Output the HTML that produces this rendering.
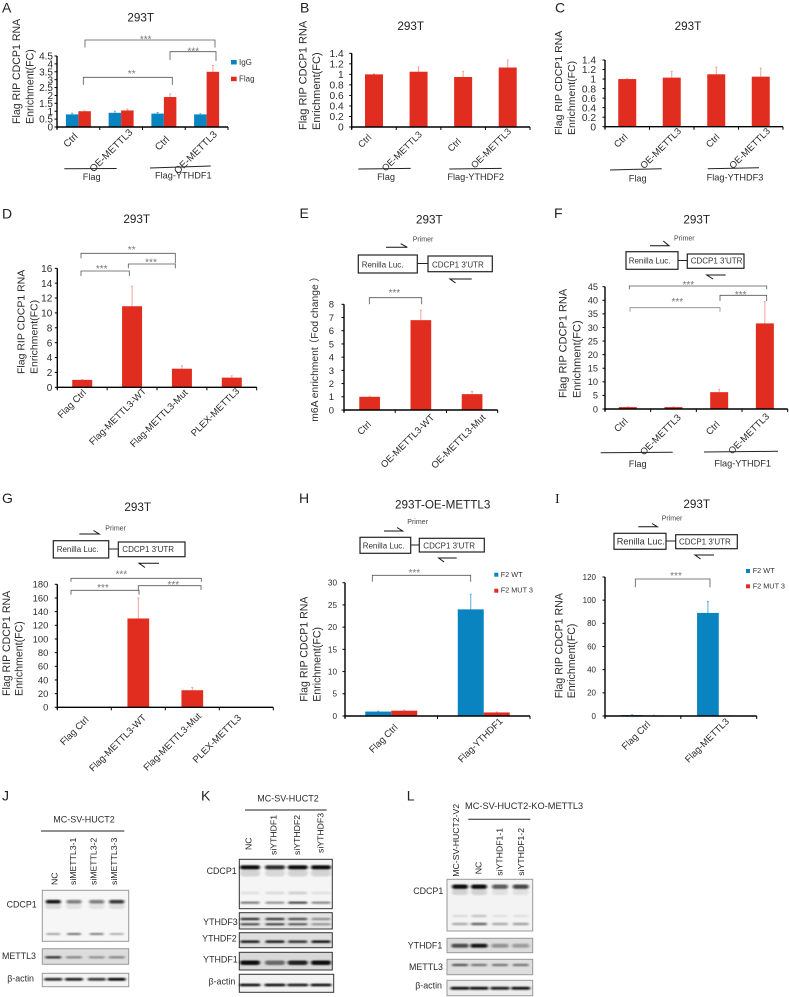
<!DOCTYPE html>
<html lang="en">
<head>
<meta charset="utf-8">
<title>CDCP1 RIP enrichment and western blots</title>
<style>
html,body{margin:0;padding:0;background:#fff;}
#figure{display:block;width:789px;height:997px;filter:blur(0.35px);}
text{font-family:"Liberation Sans","Noto Sans CJK SC",sans-serif;fill:#2b2b2b;}
.letter{font-size:14px;fill:#222;}
.title{font-size:11.7px;text-anchor:middle;fill:#222;}
.yt{font-size:10.6px;}
.grp{font-size:9.2px;text-anchor:middle;}
.st{font-size:10px;text-anchor:middle;fill:#777;}
.br{fill:none;stroke:#555;stroke-width:.8;}
.ln{stroke:#222;stroke-width:1;fill:none;}
.box{fill:#fff;stroke:#222;stroke-width:1.2;}
.sch{font-size:8px;fill:#333;}
.pr{font-size:7px;fill:#444;}
.lg{font-size:7.3px;fill:#333;}
.ha{fill:none;stroke:#111;stroke-width:1;}
.bl{font-size:8.9px;text-anchor:end;fill:#2b2b2b;}
.hd{font-size:9px;fill:#2b2b2b;}
.lane{font-size:8.7px;fill:#222;}
</style>
</head>
<body>
<svg id="figure" xmlns="http://www.w3.org/2000/svg" width="789" height="997" viewBox="0 0 789 997">
<defs><filter id="bandBlur" x="-30%" y="-150%" width="160%" height="400%"><feGaussianBlur stdDeviation="1.2 0.9"/></filter></defs>

<!-- panel letters -->
<text class="letter" x="2" y="12.5">A</text>
<text class="letter" x="300" y="12.5">B</text>
<text class="letter" x="555" y="12.5">C</text>
<text class="letter" x="2" y="218.5">D</text>
<text class="letter" x="299.5" y="218">E</text>
<text class="letter" x="554" y="218">F</text>
<text class="letter" x="2" y="503">G</text>
<text class="letter" x="299" y="503">H</text>
<text class="letter" x="555" y="503" style="font-family:'Liberation Serif',serif">I</text>
<text class="letter" x="2" y="800.7">J</text>
<text class="letter" x="201" y="800.7">K</text>
<text class="letter" x="406.7" y="800.7">L</text>

<!-- panel titles -->
<text class="title" x="140.7" y="21.7">293T</text>
<text class="title" x="410.7" y="30">293T</text>
<text class="title" x="688" y="30">293T</text>
<text class="title" x="136.7" y="223">293T</text>
<text class="title" x="429.3" y="223.3">293T</text>
<text class="title" x="696.7" y="223.3">293T</text>
<text class="title" x="137.7" y="511">293T</text>
<text class="title" x="442.7" y="508.3">293T-OE-METTL3</text>
<text class="title" x="696.7" y="508">293T</text>

<!-- y axis titles -->
<text class="yt" transform="translate(20,124) rotate(-90)">Flag RIP CDCP1 RNA</text>
<text class="yt" transform="translate(33.5,124) rotate(-90)">Enrichment(FC)</text>
<text class="yt" style="font-size:11px" transform="translate(306.7,130) rotate(-90)">Flag RIP CDCP1 RNA</text>
<text class="yt" style="font-size:11px" transform="translate(320,130) rotate(-90)">Enrichment(FC)</text>
<text class="yt" style="font-size:10.5px" transform="translate(562,135) rotate(-90)">Flag RIP CDCP1 RNA</text>
<text class="yt" style="font-size:10.5px" transform="translate(575,135) rotate(-90)">Enrichment(FC)</text>
<text class="yt" style="font-size:10.5px" transform="translate(24.3,374) rotate(-90)">Flag RIP CDCP1 RNA</text>
<text class="yt" style="font-size:10.5px" transform="translate(37.7,374) rotate(-90)">Enrichment(FC)</text>
<text class="yt" style="font-size:10.3px" transform="translate(318,421.7) rotate(-90)">m6A enrichment<tspan x="72.5">（</tspan><tspan x="83">Fod change</tspan><tspan x="140">）</tspan></text>
<text class="yt" style="font-size:11px" transform="translate(566.7,398) rotate(-90)">Flag RIP CDCP1 RNA</text>
<text class="yt" style="font-size:11px" transform="translate(580.7,398) rotate(-90)">Enrichment(FC)</text>
<text class="yt" transform="translate(10,696) rotate(-90)">Flag RIP CDCP1 RNA</text>
<text class="yt" transform="translate(22.7,696) rotate(-90)">Enrichment(FC)</text>
<text class="yt" transform="translate(307.3,701.7) rotate(-90)">Flag RIP CDCP1 RNA</text>
<text class="yt" transform="translate(320.7,701.7) rotate(-90)">Enrichment(FC)</text>
<text class="yt" transform="translate(562.3,698.3) rotate(-90)">Flag RIP CDCP1 RNA</text>
<text class="yt" transform="translate(575,698.3) rotate(-90)">Enrichment(FC)</text>

<!-- group underlines and captions -->
<path class="ln" d="M64.3 168.8L116.7 168.5"/>
<text class="grp" x="91.7" y="180">Flag</text>
<path class="ln" d="M150 168L210.7 166"/>
<text class="grp" x="183.3" y="178.3">Flag-YTHDF1</text>
<path class="ln" d="M358.3 169L410.7 168.4"/>
<text class="grp" x="386" y="180">Flag</text>
<path class="ln" d="M449.3 169L501.7 168.4"/>
<text class="grp" x="475.7" y="180">Flag-YTHDF2</text>
<path class="ln" d="M610 170L661.7 168.7"/>
<text class="grp" x="637.7" y="181.7">Flag</text>
<path class="ln" d="M707.7 168.7L759 167.7"/>
<text class="grp" x="735" y="180.7">Flag-YTHDF3</text>
<path class="ln" d="M600.7 452.7L672.7 452.3"/>
<text class="grp" x="637.7" y="467">Flag</text>
<path class="ln" d="M704 452L778 451.3"/>
<text class="grp" x="742.7" y="466.5">Flag-YTHDF1</text>

<!-- significance brackets -->
<path class="br" d="M85 47.5V40H215V47.5"/>
<text class="st" x="145.7" y="42.5">***</text>
<path class="br" d="M170 60V51.7H216V61"/>
<text class="st" x="193.3" y="54.5">***</text>
<path class="br" d="M83.3 85V77.3H172.3V85"/>
<text class="st" x="131.7" y="77.2">**</text>
<path class="br" d="M81 258.3V253.3H175.3V263.3"/>
<text class="st" x="131.7" y="252.8">**</text>
<path class="br" d="M128.3 268.3V264H175.3V268.3"/>
<text class="st" x="151" y="265.5">***</text>
<path class="br" d="M81 276V271H129.3V276"/>
<text class="st" x="101.7" y="272.2">***</text>
<path class="br" d="M369.3 304.3V297.7H421.7V304.3"/>
<text class="st" x="394.3" y="295.8">***</text>
<path class="br" d="M629.3 289.3V286H766.7V289.3"/>
<text class="st" x="688.3" y="287.8">***</text>
<path class="br" d="M720 301V295.3H766.7V301"/>
<text class="st" x="740.7" y="297.8">***</text>
<path class="br" style="stroke:#888" d="M630 311.7V307.7H720V311.7"/>
<text class="st" x="677.3" y="305.2">***</text>
<path class="br" d="M71 581.7V578.3H201.3V581.7"/>
<text class="st" x="121.3" y="577.5">***</text>
<path class="br" d="M138.3 590V585.7H201V590"/>
<text class="st" x="173.3" y="588.2">***</text>
<path class="br" d="M71 594.7V590.3H139V594.7"/>
<text class="st" x="103" y="591.2">***</text>
<path class="br" d="M372.3 581.7V575.3H470.7V581.7"/>
<text class="st" x="414.3" y="575.8">***</text>
<path class="br" d="M635.3 587.3V579H710V587.3"/>
<text class="st" x="676" y="579.2">***</text>

<!-- schematic E -->
<g>
<path class="ha" d="M386 247.3H407.3L400.7 243.7"/>
<text class="pr" x="412.7" y="241.7">Primer</text>
<rect class="box" x="358.3" y="255" width="59" height="18"/>
<text class="sch" x="361.7" y="267.3">Renilla Luc.</text>
<path class="ln" d="M417.3 263.5H428"/>
<rect class="box" x="428" y="256" width="64.3" height="15.7"/>
<text class="sch" x="432" y="267.3">CDCP1 3'UTR</text>
<path class="ha" d="M471.7 279H450L455.5 283"/>
</g>
<!-- schematic F -->
<g>
<path class="ha" d="M650 245.7H669L663.3 241"/>
<text class="pr" x="674" y="240.7">Primer</text>
<rect class="box" x="626" y="251.7" width="52" height="17.6"/>
<text class="sch" x="628.7" y="263.3">Renilla Luc.</text>
<path class="ln" d="M678 260.5H687.3"/>
<rect class="box" x="687.3" y="254" width="56.7" height="14.3"/>
<text class="sch" x="690.7" y="263.3">CDCP1 3'UTR</text>
<path class="ha" d="M725.7 275H706.7L713 279"/>
</g>
<!-- schematic G -->
<g>
<path class="ha" d="M79.3 534H99.3L93.5 530.5"/>
<text class="pr" x="105.3" y="530.3">Primer</text>
<rect class="box" x="53.3" y="540.7" width="55.4" height="17.3"/>
<text class="sch" x="56.7" y="552">Renilla Luc.</text>
<path class="ln" d="M108.7 549H118.3"/>
<rect class="box" x="118.3" y="542" width="66.7" height="14.7"/>
<text class="sch" x="122.3" y="552">CDCP1 3'UTR</text>
<path class="ha" d="M159 563.3H139L145 567.5"/>
</g>
<!-- schematic H -->
<g>
<path class="ha" d="M384 531H402.7L397 527.5"/>
<text class="pr" x="407.3" y="524">Primer</text>
<rect class="box" x="360" y="537.3" width="50.7" height="16"/>
<text class="sch" x="362.7" y="548.3">Renilla Luc.</text>
<path class="ln" d="M410.7 545H419.3"/>
<rect class="box" x="419.3" y="538.3" width="65" height="13.7"/>
<text class="sch" x="423.3" y="548.3">CDCP1 3'UTR</text>
<path class="ha" d="M456.7 558H438.7L444 562"/>
</g>
<!-- schematic I -->
<g>
<path class="ha" d="M638.3 526.7H657.3L652 523.5"/>
<text class="pr" x="661.7" y="520.7">Primer</text>
<rect class="box" x="614" y="533.3" width="52" height="16"/>
<text class="sch" style="font-size:9.2px" x="616.7" y="544.3">Renilla Luc.</text>
<path class="ln" d="M666 541H675.7"/>
<rect class="box" x="675.7" y="534.7" width="61.6" height="14"/>
<text class="sch" x="679" y="544.7">CDCP1 3'UTR</text>
<path class="ha" d="M714 555H695L700.5 559"/>
</g>

<!-- legends -->
<rect x="231" y="60" width="5.7" height="4.5" fill="#0a84c0"/>
<text class="lg" style="font-size:8px" x="239" y="65">IgG</text>
<rect x="231" y="76.7" width="5.7" height="4.5" fill="#e12d1f"/>
<text class="lg" style="font-size:8px" x="239" y="81.5">Flag</text>
<rect x="494.3" y="572.7" width="4" height="4" fill="#0a84c0"/>
<text class="lg" x="500.7" y="577">F2 WT</text>
<rect x="494.3" y="588.7" width="4" height="4" fill="#e12d1f"/>
<text class="lg" x="500.7" y="592.7">F2 MUT 3</text>
<rect x="746" y="569" width="4" height="4" fill="#0a84c0"/>
<text class="lg" x="752.7" y="573">F2 WT</text>
<rect x="746" y="584.3" width="4" height="4" fill="#e12d1f"/>
<text class="lg" x="752.7" y="588.3">F2 MUT 3</text>

<!-- blot J labels -->
<text class="hd" x="84" y="822.3" text-anchor="middle">MC-SV-HUCT2</text>
<path class="ln" d="M41 831H124.3"/>
<text class="lane" transform="translate(57.3,885) rotate(-90)">NC</text>
<text class="lane" transform="translate(76,885) rotate(-90)">siMETTL3-1</text>
<text class="lane" transform="translate(96.3,885) rotate(-90)">siMETTL3-2</text>
<text class="lane" transform="translate(117,885) rotate(-90)">siMETTL3-3</text>
<text class="bl" x="36.7" y="907.3">CDCP1</text>
<text class="bl" x="36" y="959">METTL3</text>
<text class="bl" x="34" y="981.7">β-actin</text>

<!-- blot K labels -->
<text class="hd" x="288" y="801.7" text-anchor="middle">MC-SV-HUCT2</text>
<path class="ln" d="M245 810H326.7"/>
<text class="lane" transform="translate(251.7,850) rotate(-90)">NC</text>
<text class="lane" transform="translate(276.7,855) rotate(-90)">siYTHDF1</text>
<text class="lane" transform="translate(300,855) rotate(-90)">siYTHDF2</text>
<text class="lane" transform="translate(323.3,853) rotate(-90)">siYTHDF3</text>
<text class="bl" x="236.7" y="874">CDCP1</text>
<text class="bl" x="237.7" y="925">YTHDF3</text>
<text class="bl" x="236.7" y="941.7">YTHDF2</text>
<text class="bl" x="237.7" y="962.7">YTHDF1</text>
<text class="bl" x="235.3" y="984.3">β-actin</text>

<!-- blot L labels -->
<text class="hd" style="font-size:9.25px" x="465" y="809">MC-SV-HUCT2-KO-METTL3</text>
<path class="ln" d="M468.3 819.3H530.3"/>
<text class="lane" transform="translate(459,876.7) rotate(-90)">MC-SV-HUCT2-V2</text>
<text class="lane" transform="translate(481.7,874.3) rotate(-90)">NC</text>
<text class="lane" transform="translate(502.7,875.7) rotate(-90)">siYTHDF1-1</text>
<text class="lane" transform="translate(524,875.7) rotate(-90)">siYTHDF1-2</text>
<text class="bl" x="443.3" y="894">CDCP1</text>
<text class="bl" x="442.3" y="948.3">YTHDF1</text>
<text class="bl" x="443" y="970">METTL3</text>
<text class="bl" x="442" y="988.3">β-actin</text>
</svg>

<script>
// ---- chart data ----
const categoriesFlagOe = ['Ctrl', 'OE-METTL3', 'Ctrl', 'OE-METTL3'];

const panelATicks = [0, 0.5, 1, 1.5, 2, 2.5, 3, 3.5, 4, 4.5];
const panelAIgG = [0.8, 0.9, 0.85, 0.8];
const panelAIgGErr = [0.07, 0.1, 0.07, 0.05];
const panelAFlag = [1, 1.05, 1.9, 3.5];
const panelAFlagErr = [0.02, 0.08, 0.2, 0.4];

const panelBTicks = [0, 0.2, 0.4, 0.6, 0.8, 1, 1.2, 1.4];
const panelBValues = [1, 1.05, 0.95, 1.13];
const panelBErr = [0.01, 0.09, 0.11, 0.14];

const panelCTicks = [0, 0.2, 0.4, 0.6, 0.8, 1, 1.2, 1.4];
const panelCValues = [1, 1.03, 1.1, 1.05];
const panelCErr = [0.01, 0.13, 0.15, 0.18];

const panelDCategories = ['Flag Ctrl', 'Flag-METTL3-WT', 'Flag-METTL3-Mut', 'PLEX-METTL3'];
const panelDTicks = [0, 2, 4, 6, 8, 10, 12, 14, 16];
const panelDValues = [1, 10.9, 2.5, 1.3];
const panelDErr = [0.05, 2.7, 0.4, 0.25];

const panelECategories = ['Ctrl', 'OE-METTL3-WT', 'OE-METTL3-Mut'];
const panelETicks = [0, 1, 2, 3, 4, 5, 6, 7, 8];
const panelEValues = [1, 6.8, 1.2];
const panelEErr = [0.03, 0.75, 0.2];

const panelFTicks = [0, 5, 10, 15, 20, 25, 30, 35, 40, 45];
const panelFValues = [0.7, 0.7, 6.2, 31.5];
const panelFErr = [0.1, 0.1, 1, 8];

const panelGCategories = ['Flag Ctrl', 'Flag-METTL3-WT', 'Flag-METTL3-Mut', 'PLEX-METTL3'];
const panelGTicks = [0, 20, 40, 60, 80, 100, 120, 140, 160, 180];
const panelGValues = [0, 130, 25, 0];
const panelGErr = [0, 30, 4, 0];

const panelHCategories = ['Flag Ctrl', 'Flag-YTHDF1'];
const panelHTicks = [0, 5, 10, 15, 20, 25, 30];
const panelHWt = [1, 24];
const panelHWtErr = [0.1, 3.4];
const panelHMut = [1.2, 0.8];
const panelHMutErr = [0.15, 0.1];

const panelICategories = ['Flag Ctrl', 'Flag-METTL3'];
const panelITicks = [0, 20, 40, 60, 80, 100, 120];
const panelIWt = [0.8, 89];
const panelIWtErr = [0.3, 10];
const panelIMut = [0.5, 0.3];
const panelIMutErr = [0.4, 0.1];

// ---- drawing ----
const NS = 'http://www.w3.org/2000/svg';
const figure = document.getElementById('figure');
const RED = '#e12d1f', REDERR = '#f2a398', BLUE = '#0a84c0', BLUEERR = '#5aaed8';

function make(tag, parent, attrs) {
  const n = document.createElementNS(NS, tag);
  for (const k in attrs) n.setAttribute(k, attrs[k]);
  parent.appendChild(n);
  return n;
}

function drawChart(c) {
  const group = make('g', figure, {});
  
  

  const yScale = function (v) { return c.y0 - (v / c.max) * (c.y0 - c.yTop); };
  const step = (c.x1 - c.x0) / c.categories.length;
  const xCenter = function (i) { return c.x0 + (i + 0.5) * step; };

  // bars and error bars
  c.series.forEach(function (s, si) {
    s.values.forEach(function (v, i) {
      const left = xCenter(i) - c.series.length * c.barW / 2 + si * c.barW;
      const top = yScale(v);
      const mid = left + c.barW / 2;
      if (s.errors[i] > 0) {
        const errTop = yScale(v + s.errors[i]);
        const err = make('path', group, {
          d: 'M' + mid + ' ' + top + 'V' + errTop + 'm-1 0h2',
          stroke: s.errColor, 'stroke-width': 1, fill: 'none'
        });
        
        
      }
      const bar = make('rect', group, {
        x: left, y: top, width: c.barW, height: Math.max(0, c.y0 - top), fill: s.color
      });
      
      
    });
  });

  // axes
  const yAxis = make('line', group, { x1: c.x0, x2: c.x0, y1: c.yTop, y2: c.y0 + 2, stroke: '#000', 'stroke-width': 1.4 });
  
  
  const xAxis = make('line', group, { x1: c.x0, x2: c.x1, y1: c.y0, y2: c.y0, stroke: '#000', 'stroke-width': 1.4 });
  
  

  // y ticks
  c.ticks.forEach(function (t) {
    const y = yScale(t);
    const mark = make('line', group, { x1: c.x0 - 2.5, x2: c.x0, y1: y, y2: y, stroke: '#000', 'stroke-width': 1 });
    
    
    const label = make('text', group, {
      x: c.x0 - c.tickGap, y: y + c.tickFont * 0.36, 'text-anchor': 'end', 'font-size': c.tickFont, fill: '#333'
    });
    
    
    label.textContent = String(t);
  });

  // x ticks at category boundaries
  for (let i = 0; i <= c.categories.length; i++) {
    const x = c.x0 + i * step;
    const mark = make('line', group, { x1: x, x2: x, y1: c.y0, y2: c.y0 + 3, stroke: '#000', 'stroke-width': 1 });
    
    
  }

  // rotated category labels
  c.categories.forEach(function (name, i) {
    const off = c.labelOffsets[i];
    const lx = xCenter(i) + off[0];
    const ly = c.y0 + off[1];
    const label = make('text', group, {
      transform: 'translate(' + lx + ',' + ly + ') rotate(-45)',
      'text-anchor': 'end', 'font-size': c.catFont, fill: '#333'
    });
    
    
    label.textContent = name;
  });
}

drawChart({ id: 'a', x0: 57, x1: 228, y0: 127, yTop: 56, max: 4.5, ticks: panelATicks, tickFont: 10, tickGap: 4,
  categories: categoriesFlagOe, catFont: 10, barW: 12.5, labelOffsets: [[0, 10], [12, 6], [6, 13], [11, 8]],
  series: [{ values: panelAIgG, errors: panelAIgGErr, color: BLUE, errColor: BLUEERR },
           { values: panelAFlag, errors: panelAFlagErr, color: RED, errColor: REDERR }] });

drawChart({ id: 'b', x0: 351.7, x1: 530, y0: 127, yTop: 53.3, max: 1.4, ticks: panelBTicks, tickFont: 10.2, tickGap: 8,
  categories: categoriesFlagOe, catFont: 9.3, barW: 18, labelOffsets: [[-2, 11], [4, 8], [-1.5, 15], [4, 5]],
  series: [{ values: panelBValues, errors: panelBErr, color: RED, errColor: REDERR }] });

drawChart({ id: 'c', x0: 605, x1: 783, y0: 126.7, yTop: 60, max: 1.4, ticks: panelCTicks, tickFont: 10.2, tickGap: 9,
  categories: categoriesFlagOe, catFont: 9.5, barW: 18, labelOffsets: [[1, 11], [10, 5], [4, 11], [10, 5]],
  series: [{ values: panelCValues, errors: panelCErr, color: RED, errColor: REDERR }] });

drawChart({ id: 'd', x0: 57.3, x1: 256.7, y0: 387.3, yTop: 268.3, max: 16, ticks: panelDTicks, tickFont: 10, tickGap: 5,
  categories: panelDCategories, catFont: 9.5, barW: 20, labelOffsets: [[4.5, 6], [14.7, 4.4], [6.4, 6], [8.2, 4.4]],
  series: [{ values: panelDValues, errors: panelDErr, color: RED, errColor: REDERR }] });

drawChart({ id: 'e', x0: 344, x1: 497.7, y0: 410, yTop: 304.3, max: 8, ticks: panelETicks, tickFont: 9.5, tickGap: 10,
  categories: panelECategories, catFont: 9.5, barW: 20.7, labelOffsets: [[2, 15], [14, 8], [14, 8]],
  series: [{ values: panelEValues, errors: panelEErr, color: RED, errColor: REDERR }] });

drawChart({ id: 'f', x0: 605, x1: 787.7, y0: 409, yTop: 286.7, max: 45, ticks: panelFTicks, tickFont: 9.2, tickGap: 7,
  categories: categoriesFlagOe, catFont: 9.5, barW: 18, labelOffsets: [[0.5, 13], [8, 9], [1, 16], [5, 8]],
  series: [{ values: panelFValues, errors: panelFErr, color: RED, errColor: REDERR }] });

drawChart({ id: 'g', x0: 57.3, x1: 273.3, y0: 707.3, yTop: 584.3, max: 180, ticks: panelGTicks, tickFont: 9.4, tickGap: 9,
  categories: panelGCategories, catFont: 9.5, barW: 21.7, labelOffsets: [[5, 13], [8.4, 11], [9.4, 9.4], [-4.6, 11]],
  series: [{ values: panelGValues, errors: panelGErr, color: RED, errColor: REDERR }] });

drawChart({ id: 'h', x0: 345, x1: 530, y0: 716, yTop: 582.7, max: 30, ticks: panelHTicks, tickFont: 8.2, tickGap: 8,
  categories: panelHCategories, catFont: 9.5, barW: 26, labelOffsets: [[7, 12], [19.5, 5.7]],
  series: [{ values: panelHWt, errors: panelHWtErr, color: BLUE, errColor: BLUEERR },
           { values: panelHMut, errors: panelHMutErr, color: RED, errColor: REDERR }] });

drawChart({ id: 'i', x0: 605, x1: 756.7, y0: 716, yTop: 577, max: 120, ticks: panelITicks, tickFont: 8, tickGap: 9,
  categories: panelICategories, catFont: 9.5, barW: 21.7, labelOffsets: [[8, 9], [11, 6]],
  series: [{ values: panelIWt, errors: panelIWtErr, color: BLUE, errColor: BLUEERR },
           { values: panelIMut, errors: panelIMutErr, color: RED, errColor: REDERR }] });

// ---- western blots ----
function drawBlot(b) {
  const group = make('g', figure, {});
  
  
  const frame = make('rect', group, {
    x: b.x, y: b.y, width: b.w, height: b.h, fill: b.bg, stroke: b.border, 'stroke-width': 1
  });
  
  
  b.rows.forEach(function (row) {
    row.ops.forEach(function (op, i) {
      const band = make('rect', group, {
        x: b.lanes[i] - row.w / 2, y: row.cy - row.h / 2, width: row.w, height: row.h,
        rx: row.h / 2, fill: '#111', opacity: op, filter: 'url(#bandBlur)'
      });
      
      
    });
  });
}

const lanesJ = [53.3, 74, 96.7, 116.7];
const lanesK = [250, 275, 297.7, 321];
const lanesL = [460, 479, 500, 520.7];

drawBlot({ name: 'blot-j-cdcp1', x: 42.3, y: 890.3, w: 86.4, h: 51, bg: '#f6f6f6', border: '#999', lanes: lanesJ, rows: [
  { cy: 906, w: 16, h: 6, ops: [0.12, 0.08, 0.08, 0.1] },
  { cy: 901.7, w: 15, h: 3.6, ops: [0.95, 0.5, 0.5, 0.8] },
  { cy: 934, w: 14, h: 2, ops: [0.35, 0.55, 0.5, 0.3] } ] });
drawBlot({ name: 'blot-j-mettl3', x: 42.3, y: 948.7, w: 86.4, h: 15.6, bg: '#dcdcdc', border: '#999', lanes: lanesJ, rows: [
  { cy: 957.3, w: 16, h: 2.4, ops: [0.8, 0.4, 0.35, 0.4] } ] });
drawBlot({ name: 'blot-j-actin', x: 42.3, y: 973.3, w: 86.4, h: 13.4, bg: '#f4f4f4', border: '#999', lanes: lanesJ, rows: [
  { cy: 979.3, w: 18, h: 2.8, ops: [0.85, 0.9, 0.8, 1] } ] });

drawBlot({ name: 'blot-k-cdcp1', x: 239.3, y: 859.3, w: 93, h: 49.4, bg: '#f5f5f5', border: '#333', lanes: lanesK, rows: [
  { cy: 873, w: 20, h: 7, ops: [0.14, 0.12, 0.14, 0.14] },
  { cy: 867.3, w: 20, h: 4.2, ops: [1, 0.85, 1, 1] },
  { cy: 893, w: 19, h: 3, ops: [0.08, 0.1, 0.15, 0.08] },
  { cy: 902.7, w: 19, h: 2.4, ops: [0.5, 0.4, 0.7, 0.45] } ] });
drawBlot({ name: 'blot-k-ythdf3', x: 239.3, y: 912.7, w: 93, h: 16.3, bg: '#e4e4e4', border: '#333', lanes: lanesK, rows: [
  { cy: 919, w: 19, h: 2.2, ops: [0.85, 0.8, 0.7, 0.4] },
  { cy: 924.3, w: 19, h: 2, ops: [0.75, 0.8, 0.7, 0.4] } ] });
drawBlot({ name: 'blot-k-ythdf2', x: 239.3, y: 932.7, w: 93, h: 15, bg: '#dedede', border: '#333', lanes: lanesK, rows: [
  { cy: 941.7, w: 19, h: 2.6, ops: [0.9, 0.9, 0.8, 0.95] } ] });
drawBlot({ name: 'blot-k-ythdf1', x: 239.3, y: 952.3, w: 93, h: 17.7, bg: '#d8d8d8', border: '#333', lanes: lanesK, rows: [
  { cy: 962.7, w: 20, h: 4.5, ops: [1, 0.55, 0.9, 1] } ] });
drawBlot({ name: 'blot-k-actin', x: 239.3, y: 974.3, w: 94.4, h: 18, bg: '#f2f2f2', border: '#333', lanes: lanesK, rows: [
  { cy: 985, w: 21, h: 2.8, ops: [0.95, 0.95, 0.9, 0.95] } ] });

drawBlot({ name: 'blot-l-cdcp1', x: 447, y: 879.3, w: 85.7, h: 51.7, bg: '#f3f3f3', border: '#999', lanes: lanesL, rows: [
  { cy: 892, w: 16, h: 6, ops: [0.14, 0.14, 0.08, 0.08] },
  { cy: 886.7, w: 16, h: 4.4, ops: [1, 1, 0.65, 0.75] },
  { cy: 916, w: 15, h: 2.6, ops: [0.1, 0.2, 0.08, 0.08] },
  { cy: 924, w: 16, h: 2.4, ops: [0.3, 0.6, 0.3, 0.35] } ] });
drawBlot({ name: 'blot-l-ythdf1', x: 447, y: 938.3, w: 85.7, h: 14.4, bg: '#dcdcdc', border: '#999', lanes: lanesL, rows: [
  { cy: 945.7, w: 17, h: 4, ops: [0.7, 0.95, 0.35, 0.3] } ] });
drawBlot({ name: 'blot-l-mettl3', x: 447, y: 959.3, w: 85.7, h: 15.4, bg: '#dedede', border: '#999', lanes: lanesL, rows: [
  { cy: 965, w: 16, h: 2.2, ops: [0.65, 0.5, 0.5, 0.5] } ] });
drawBlot({ name: 'blot-l-actin', x: 447, y: 980.3, w: 85.7, h: 15.4, bg: '#ececec', border: '#999', lanes: lanesL, rows: [
  { cy: 988.3, w: 19, h: 3, ops: [0.95, 0.95, 0.9, 0.95] } ] });
</script>
</body>
</html>
